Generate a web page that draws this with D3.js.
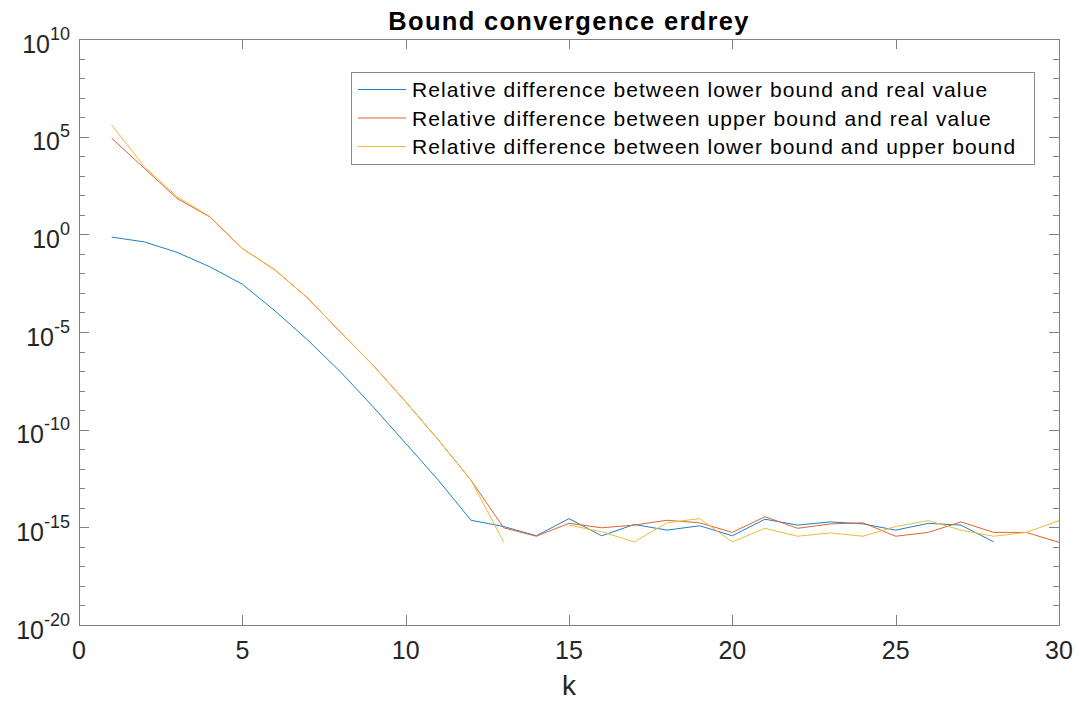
<!DOCTYPE html>
<html>
<head>
<meta charset="utf-8">
<script src="https://cdn.jsdelivr.net/npm/d3@7"></script>
<style>
  body { margin: 0; background: #fff; }
  svg { font-family: "Liberation Sans", Arial, Helvetica, sans-serif; }
</style>
</head>
<body>
<div id="chart"></div>
<script>
// k = 1..30
const kValues = d3.range(1, 31);

// Relative difference between lower bound and real value (null = not plotted)
const lowerVsReal = [0.72, 0.41, 0.12, 0.022, 2.8e-3, 1.2e-4, 3.9e-6, 9.3e-8, 1.5e-9, 2.0e-11,
  2.6e-13, 2.3e-15, 1.1e-15, 3.7e-16, 2.8e-15, 3.7e-16, 1.4e-15, 7.2e-16, 1.2e-15, 3.7e-16,
  2.6e-15, 1.3e-15, 1.9e-15, 1.5e-15, 7.2e-16, 1.6e-15, 1.3e-15, 1.8e-16, null, null];

// Relative difference between upper bound and real value
const upperVsReal = [8.3e4, 2.4e3, 69, 7.9, 0.19, 0.015, 5.5e-4, 1.0e-5, 2.0e-7, 2.7e-9,
  3.0e-11, 2.6e-13, 9.5e-16, 3.5e-16, 1.6e-15, 9.5e-16, 1.3e-15, 2.3e-15, 1.7e-15, 5.5e-16,
  3.5e-15, 8.9e-16, 1.5e-15, 1.7e-15, 3.5e-16, 5.5e-16, 1.9e-15, 5.5e-16, 5.5e-16, 1.7e-16];

// Relative difference between lower bound and upper bound
const lowerVsUpper = [4.0e5, 2.9e3, 85, 8.3, 0.19, 0.015, 5.5e-4, 1.0e-5, 2.0e-7, 2.7e-9,
  3.0e-11, 2.6e-13, 1.8e-16, null, 1.3e-15, 5.9e-16, 1.8e-16, 1.7e-15, 2.8e-15, 1.8e-16,
  8.9e-16, 3.5e-16, 5.2e-16, 3.5e-16, 1.1e-15, 2.2e-15, 7.2e-16, 3.5e-16, 5.5e-16, 2.2e-15];

const seriesNames = [
  'Relative difference between lower bound and real value',
  'Relative difference between upper bound and real value',
  'Relative difference between lower bound and upper bound'
];
const seriesColors = ['#1f80c8', '#dd6433', '#efbb3a'];
const xTicks = [0, 5, 10, 15, 20, 25, 30];
const yMajorExp = [-20, -15, -10, -5, 0, 5, 10];
const yMinorExp = d3.range(-20, 11);

const width = 1080, height = 701;
const plotLeft = 79, plotRight = 1059, plotTop = 39, plotBottom = 625;

const svg = d3.select('#chart').append('svg')
  .attr('width', width)
  .attr('height', height);

const x = d3.scaleLinear().domain([0, 30]).range([plotLeft, plotRight]);
const y = d3.scaleLog().domain([1e-20, 1e10]).range([plotBottom, plotTop]);

svg.append('defs').append('clipPath').attr('id', 'plotclip')
  .append('rect')
  .attr('x', plotLeft).attr('y', plotTop)
  .attr('width', plotRight - plotLeft).attr('height', plotBottom - plotTop);

// box
const axisColor = '#808080';
svg.append('rect')
  .attr('x', plotLeft + 0.5).attr('y', plotTop + 0.5)
  .attr('width', plotRight - plotLeft).attr('height', plotBottom - plotTop)
  .attr('fill', 'none')
  .attr('stroke', axisColor)
  .attr('stroke-width', 1);

// x ticks, bottom and top
xTicks.forEach(t => {
  const px = Math.round(x(t)) + 0.5;
  svg.append('line').attr('x1', px).attr('x2', px).attr('y1', plotBottom).attr('y2', plotBottom - 10)
    .attr('stroke', axisColor);
  svg.append('line').attr('x1', px).attr('x2', px).attr('y1', plotTop).attr('y2', plotTop + 10)
    .attr('stroke', axisColor);
  svg.append('text')
    .attr('x', x(t)).attr('y', 659)
    .attr('text-anchor', 'middle')
    .attr('fill', '#262626')
    .style('font-size', '25px')
    .text(t);
});

// y ticks, left and right
yMinorExp.forEach(e => {
  const len = yMajorExp.includes(e) ? 10 : 6;
  const py = Math.round(y(Math.pow(10, e))) + 0.5;
  svg.append('line').attr('x1', plotLeft).attr('x2', plotLeft + len).attr('y1', py).attr('y2', py)
    .attr('stroke', axisColor);
  svg.append('line').attr('x1', plotRight).attr('x2', plotRight - len).attr('y1', py).attr('y2', py)
    .attr('stroke', axisColor);
});

yMajorExp.forEach(e => {
  const py = y(Math.pow(10, e));
  const txt = svg.append('text')
    .attr('x', 70).attr('y', py + 13.5)
    .attr('text-anchor', 'end')
    .attr('fill', '#262626')
    .style('font-size', '25px');
  txt.append('tspan').text('10');
  txt.append('tspan').attr('dy', -12.8).style('font-size', '18px').text(e);
});

// axis label
svg.append('text')
  .attr('x', (plotLeft + plotRight) / 2).attr('y', 695)
  .attr('text-anchor', 'middle')
  .attr('fill', '#262626')
  .style('font-size', '28px')
  .text('k');

// title
svg.append('text')
  .attr('x', (plotLeft + plotRight) / 2).attr('y', 30)
  .attr('text-anchor', 'middle')
  .attr('fill', '#000')
  .style('font-size', '25.5px')
  .style('font-weight', 'bold')
  .style('letter-spacing', '1.3px')
  .text('Bound convergence erdrey');

// lines
const line = d3.line()
  .defined(d => d.v != null)
  .x(d => x(d.k))
  .y(d => y(d.v));

[lowerVsReal, upperVsReal, lowerVsUpper].forEach((vals, i) => {
  const pts = kValues.map((k, j) => ({ k: k, v: vals[j] }));
  svg.append('path')
    .datum(pts)
    .attr('clip-path', 'url(#plotclip)')
    .attr('fill', 'none')
    .attr('stroke', seriesColors[i])
    .attr('stroke-width', 1)
    .attr('d', line);
});

// legend
const legend = svg.append('g');
legend.append('rect')
  .attr('x', 351.5).attr('y', 72.5)
  .attr('width', 683).attr('height', 92)
  .attr('fill', '#fff')
  .attr('stroke', '#8a8a8a')
  .attr('stroke-width', 1);

const rowY = [89.5, 118, 146.5];
seriesNames.forEach((name, i) => {
  legend.append('line')
    .attr('x1', 358).attr('x2', 406)
    .attr('y1', rowY[i]).attr('y2', rowY[i])
    .attr('stroke', seriesColors[i])
    .attr('stroke-width', 1);
  legend.append('text')
    .attr('x', 412).attr('y', rowY[i] + 7.5)
    .attr('fill', '#000')
    .style('font-size', '21px')
    .style('letter-spacing', '1.1px')
    .text(name);
});
</script>
</body>
</html>
